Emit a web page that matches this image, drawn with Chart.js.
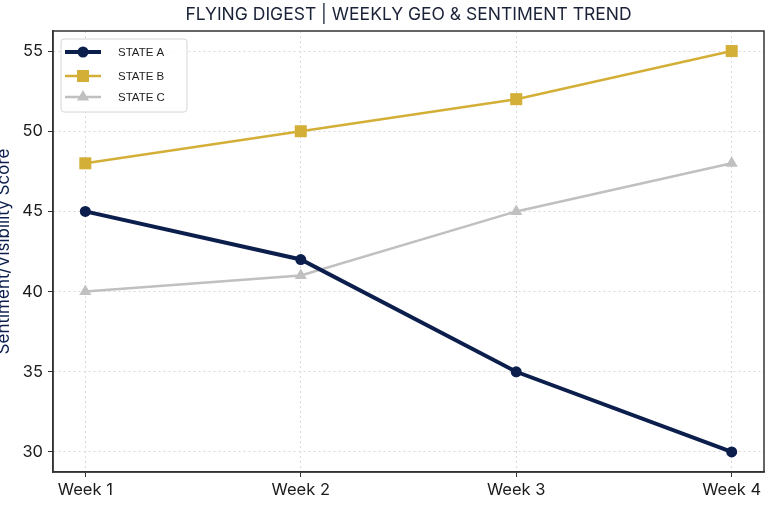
<!DOCTYPE html>
<html>
<head>
<meta charset="utf-8">
<script src="https://cdn.jsdelivr.net/npm/chart.js@4"></script>
<style>
  html, body { margin: 0; padding: 0; background: #fff; }
  #wrap { width: 768px; height: 512px; }
</style>
</head>
<body>
<div id="wrap"><canvas id="trendChart"></canvas></div>
<script>
// Data
const weeks = ['Week 1', 'Week 2', 'Week 3', 'Week 4'];
const stateA = [45, 42, 35, 30];
const stateB = [48, 50, 52, 55];
const stateC = [40, 41, 45, 48];
const yTicks = [30, 35, 40, 45, 50, 55];

const NAVY = '#0c1f4c';
const GOLD = '#d4af37';
const SILVER = '#c0c0c0';
const TEXT = '#1b1b1b';

const toPoints = arr => arr.map((v, i) => ({ x: i, y: v }));

// frame on all four sides, like a matplotlib axes box
const frame = {
    id: 'frame',
    afterDatasetsDraw(chart) {
        const { ctx, chartArea: a } = chart;
        ctx.save();
        ctx.strokeStyle = '#333';
        ctx.lineWidth = 1.5;
        ctx.strokeRect(a.left, a.top, a.right - a.left, a.bottom - a.top);
        ctx.restore();
    }
};

// legend box inside the plot, line + marker per series
const innerLegend = {
    id: 'innerLegend',
    afterDraw(chart) {
        const { ctx, chartArea: a } = chart;
        const x = a.left + 8, y = a.top + 8, w = 126, h = 73;
        ctx.save();
        ctx.fillStyle = 'rgba(255,255,255,0.85)';
        ctx.strokeStyle = '#d6d6d6';
        ctx.lineWidth = 1;
        ctx.beginPath();
        ctx.roundRect(x, y, w, h, 3);
        ctx.fill();
        ctx.stroke();
        const rows = [y + 13, y + 37, y + 58];
        chart.data.datasets.forEach((ds, i) => {
            const ry = rows[i];
            ctx.strokeStyle = ds.borderColor;
            ctx.lineWidth = ds.borderWidth;
            ctx.beginPath();
            ctx.moveTo(x + 4, ry);
            ctx.lineTo(x + 40, ry);
            ctx.stroke();
            ctx.fillStyle = ds.pointBackgroundColor;
            Chart.helpers.drawPoint(ctx, {
                pointStyle: ds.pointStyle,
                radius: ds.pointRadius,
                borderWidth: 0,
                rotation: 0
            }, x + 22, ry);
            ctx.fillStyle = '#222';
            ctx.font = '11.5px "Liberation Sans", Arial, sans-serif';
            ctx.textBaseline = 'middle';
            ctx.fillText(ds.label, x + 57, ry + 1);
        });
        ctx.restore();
    }
};

const ctx = document.getElementById('trendChart').getContext('2d');
new Chart(ctx, {
    type: 'line',
    data: {
        datasets: [{
            label: 'STATE A',
            data: toPoints(stateA),
            borderColor: NAVY,
            backgroundColor: NAVY,
            pointBackgroundColor: NAVY,
            borderWidth: 4,
            pointStyle: 'circle',
            pointRadius: 5.5,
            pointBorderWidth: 0
        }, {
            label: 'STATE B',
            data: toPoints(stateB),
            borderColor: GOLD,
            backgroundColor: GOLD,
            pointBackgroundColor: GOLD,
            borderWidth: 2.5,
            pointStyle: 'rect',
            pointRadius: 8.5,
            pointBorderWidth: 0
        }, {
            label: 'STATE C',
            data: toPoints(stateC),
            borderColor: SILVER,
            backgroundColor: SILVER,
            pointBackgroundColor: SILVER,
            borderWidth: 2.5,
            pointStyle: 'triangle',
            pointRadius: 7,
            pointBorderWidth: 0
        }]
    },
    options: {
        responsive: true,
        maintainAspectRatio: false,
        animation: false,
        layout: { autoPadding: false, padding: { right: 4 } },
        plugins: {
            legend: { display: false },
            tooltip: { enabled: false },
            title: {
                display: true,
                fullSize: false,
                text: 'FLYING DIGEST | WEEKLY GEO & SENTIMENT TREND',
                color: '#1a2238',
                font: { family: 'Inter', size: 17.5, weight: 'normal' },
                padding: { top: 4, bottom: 6 }
            }
        },
        scales: {
            x: {
                type: 'linear',
                min: -0.15,
                max: 3.15,
                afterBuildTicks: s => { s.ticks = weeks.map((w, i) => ({ value: i })); },
                afterFit: s => { s.height = 40; },
                ticks: {
                    callback: v => weeks[v],
                    color: TEXT,
                    font: { family: 'Inter', size: 16.5 },
                    padding: 3
                },
                grid: { color: '#d9d9d9', tickColor: '#333', tickLength: 5, tickWidth: 1 },
                border: { color: '#333', width: 1.5, dash: [2, 3] }
            },
            y: {
                min: 28.75,
                max: 56.25,
                afterBuildTicks: s => { s.ticks = yTicks.map(v => ({ value: v })); },
                afterFit: s => { s.width = 53; },
                ticks: {
                    color: TEXT,
                    font: { family: 'Inter', size: 16.5 },
                    padding: 5
                },
                grid: { color: '#d9d9d9', tickColor: '#333', tickLength: 5, tickWidth: 1 },
                border: { color: '#333', width: 1.5, dash: [2, 3] },
                title: {
                    display: true,
                    text: 'Sentiment/Visibility Score',
                    color: NAVY,
                    font: { family: 'Inter', size: 17 },
                    padding: { top: -6, bottom: 0 }
                }
            }
        }
    },
    plugins: [frame, innerLegend]
});
</script>
</body>
</html>
